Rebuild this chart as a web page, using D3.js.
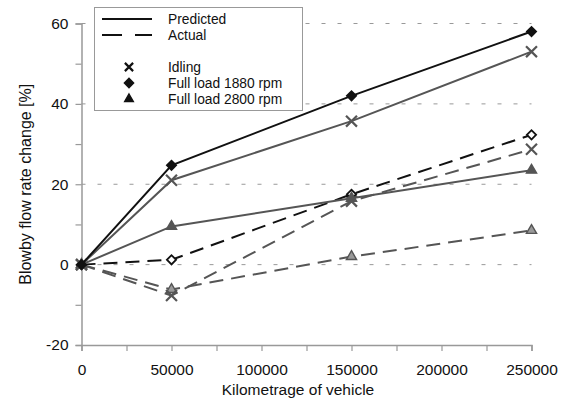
<!DOCTYPE html>
<html>
<head>
<meta charset="utf-8">
<script src="https://cdn.jsdelivr.net/npm/d3@7"></script>
<style>
  body { margin: 0; background: #fff; }
  text { font-family: "Liberation Sans", Arial, sans-serif; fill: #111; }
</style>
</head>
<body>
<div id="app"></div>
<script>
// data
const km = [0, 50000, 150000, 250000];
const predIdling = [0, 21, 35.7, 53];
const pred1880 = [0, 24.7, 42, 58];
const pred2800 = [0, 9.5, 16.5, 23.5];
const actIdling = [0, -7.7, 15.8, 28.7];
const act1880 = [0, 1.2, 17.5, 32.3];
const act2800 = [0, -6.2, 2, 8.5];
const yTicks = [-20, 0, 20, 40, 60];
const xTicks = [0, 50000, 100000, 150000, 200000, 250000];

const width = 566, height = 401;
const FS = 15.5;
const svg = d3.select("#app").append("svg")
  .attr("width", width).attr("height", height);

const x = d3.scaleLinear().domain([0, 250000]).range([81.5, 531.5]);
const y = d3.scaleLinear().domain([-20, 60]).range([345, 23.5]);

// dotted grid
svg.append("g").selectAll("line")
  .data([0, 20, 40, 60]).join("line")
  .attr("x1", x(0)).attr("x2", x(250000))
  .attr("y1", d => y(d)).attr("y2", d => y(d))
  .attr("stroke", "#999").attr("stroke-width", 1)
  .attr("stroke-dasharray", "4,12");

// axes
const xAxis = svg.append("g").attr("transform", `translate(0,${y(-20)})`)
  .call(d3.axisBottom(x).tickValues(d3.range(0, 250001, 25000)).tickSize(6)
    .tickFormat(d => xTicks.includes(d) ? d : ""));
const yAxis = svg.append("g").attr("transform", `translate(${x(0)},0)`)
  .call(d3.axisLeft(y).tickValues(d3.range(-20, 61, 10)).tickSize(6)
    .tickFormat(d => yTicks.includes(d) ? d : ""));
[xAxis, yAxis].forEach(a => {
  a.attr("font-size", FS).attr("font-family", "Liberation Sans, Arial, sans-serif");
  a.select(".domain").attr("stroke", "#999").attr("stroke-width", 1.5);
  a.selectAll(".tick line").attr("stroke", "#999").attr("stroke-width", 1.2);
  a.selectAll("text").attr("fill", "#111");
});
xAxis.selectAll("text").attr("y", 30).attr("dy", 0);
yAxis.selectAll("text").attr("x", -13);

svg.append("text").attr("x", 298).attr("y", 395)
  .attr("text-anchor", "middle").attr("font-size", FS).text("Kilometrage of vehicle");
svg.append("text").attr("transform", `translate(31,${y(20)}) rotate(-90)`)
  .attr("text-anchor", "middle").attr("font-size", 16).text("Blowby flow rate change [%]");

const series = [
  { v: act2800, color: "#555", dash: "14,8", marker: "tri", fill: "#999" },
  { v: actIdling, color: "#555", dash: "14,8", marker: "x" },
  { v: act1880, color: "#111", dash: "14,8", marker: "dia", fill: "#fff" },
  { v: pred2800, color: "#555", dash: null, marker: "tri", fill: "#555" },
  { v: predIdling, color: "#555", dash: null, marker: "x" },
  { v: pred1880, color: "#111", dash: null, marker: "dia", fill: "#111" }
];

const line = d3.line().x((d, i) => x(km[i])).y(d => y(d));
const triSym = d3.symbol(d3.symbolTriangle, 45);
const diaSym = d3.symbol(d3.symbolSquare, 42);
const xSym = d3.symbol(d3.symbolX, 80);

function drawMarker(g, type, color, fill, cx, cy, scale) {
  const s = scale || 1;
  if (type === "x") {
    g.append("path").attr("d", xSym())
      .attr("transform", `translate(${cx},${cy}) scale(${s})`)
      .attr("fill", "none").attr("stroke", color).attr("stroke-width", 2.2 / s);
  } else if (type === "dia") {
    g.append("path").attr("d", diaSym())
      .attr("transform", `translate(${cx},${cy}) scale(${s}) rotate(45)`)
      .attr("fill", fill).attr("stroke", color).attr("stroke-width", 1.8 / s);
  } else {
    g.append("path").attr("d", triSym())
      .attr("transform", `translate(${cx},${cy}) scale(${s})`)
      .attr("fill", fill).attr("stroke", color).attr("stroke-width", 1.4 / s);
  }
}

series.forEach(s => {
  svg.append("path").datum(s.v).attr("d", line)
    .attr("fill", "none").attr("stroke", s.color).attr("stroke-width", 2)
    .attr("stroke-dasharray", s.dash);
  const g = svg.append("g");
  s.v.forEach((d, i) => drawMarker(g, s.marker, s.color, s.fill, x(km[i]), y(d)));
});

// legend
const lg = svg.append("g");
lg.append("rect").attr("x", 94.5).attr("y", 7.5).attr("width", 208).attr("height", 103)
  .attr("fill", "#fff").attr("stroke", "#999").attr("stroke-width", 1);
lg.append("line").attr("x1", 102).attr("x2", 152).attr("y1", 19).attr("y2", 19)
  .attr("stroke", "#111").attr("stroke-width", 2);
lg.append("line").attr("x1", 102).attr("x2", 152).attr("y1", 35).attr("y2", 35)
  .attr("stroke", "#111").attr("stroke-width", 2).attr("stroke-dasharray", "20,13");
const legendText = ["Predicted", "Actual", "Idling", "Full load 1880 rpm", "Full load 2800 rpm"];
const legendY = [19, 35, 67, 83, 99];
legendText.forEach((t, i) => {
  lg.append("text").attr("x", 168).attr("y", legendY[i]).attr("dy", "0.35em")
    .attr("font-size", 13.8).text(t);
});
drawMarker(lg, "x", "#111", null, 129, 67, 0.75);
drawMarker(lg, "dia", "#111", "#111", 129, 83, 0.95);
drawMarker(lg, "tri", "#111", "#111", 129, 99, 0.85);
</script>
</body>
</html>
